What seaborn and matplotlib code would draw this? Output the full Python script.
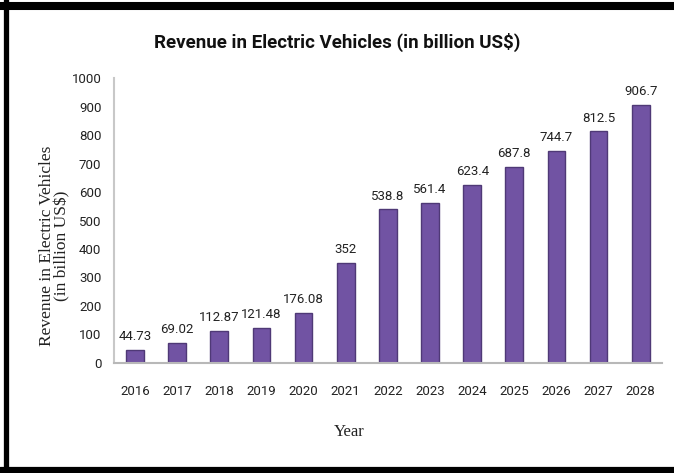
import matplotlib
matplotlib.use("Agg")
import matplotlib.pyplot as plt
import seaborn as sns
from matplotlib.lines import Line2D

years = ["2016", "2017", "2018", "2019", "2020", "2021", "2022",
         "2023", "2024", "2025", "2026", "2027", "2028"]
revenue = [44.73, 69.02, 112.87, 121.48, 176.08, 352, 538.8,
           561.4, 623.4, 687.8, 744.7, 812.5, 906.7]
yticks = [0, 100, 200, 300, 400, 500, 600, 700, 800, 900, 1000]

sns.set_theme(style="white")
sans = ["Roboto", "DejaVu Sans"]
serif = ["Liberation Serif", "DejaVu Serif"]
plt.rcParams["font.family"] = sans

fig = plt.figure(figsize=(6.74, 4.73), dpi=100)
ax = fig.add_axes([0.169, 0.2326, 0.813, 0.6024])

sns.barplot(x=years, y=revenue, color="#7153a3", width=0.42,
            edgecolor="#4f3976", linewidth=1.0, saturation=1, ax=ax)

ax.bar_label(ax.containers[0], labels=[f"{v:g}" for v in revenue],
             padding=5, fontsize=9.5, color="#222222", family=sans)

ax.set_ylim(0, 1000)
ax.set_xlim(-0.5, 12.5)
ax.set_yticks(yticks)
ax.set_yticklabels([str(t) for t in yticks], fontsize=9.5, color="#222222")
ax.tick_params(axis="y", length=0, pad=9)
ax.tick_params(axis="x", length=0, pad=16, labelsize=9.5, labelcolor="#222222")

for s in ["top", "right"]:
    ax.spines[s].set_visible(False)
ax.spines["left"].set_color("#c8c8c8")
ax.spines["bottom"].set_color("#b8b8b8")
ax.spines["left"].set_linewidth(1.5)
ax.spines["bottom"].set_linewidth(1.5)

ax.set_ylabel("Revenue in Electric Vehicles\n(in billion US$)", family=serif,
              fontsize=12.5, color="#222222", linespacing=0.95)
ax.yaxis.set_label_coords(-0.08, 0.41)
ax.set_xlabel("Year", family=serif, fontsize=12, color="#222222")
ax.xaxis.set_label_coords(0.43, -0.215)

fig.text(0.5, 0.91, "Revenue in Electric Vehicles (in billion US$)",
         ha="center", va="center", fontsize=13.5, fontweight="bold",
         color="#111111", family=sans)

# black frame
fig.add_artist(Line2D([0, 1], [1 - 6 / 473, 1 - 6 / 473], color="black",
                      lw=5.8, transform=fig.transFigure))
fig.add_artist(Line2D([5.5 / 674, 5.5 / 674], [0, 1], color="black",
                      lw=3.8, transform=fig.transFigure))
fig.add_artist(Line2D([0, 1], [3.5 / 473, 3.5 / 473], color="black",
                      lw=5.2, transform=fig.transFigure))

fig.savefig("out.png", dpi=100)
